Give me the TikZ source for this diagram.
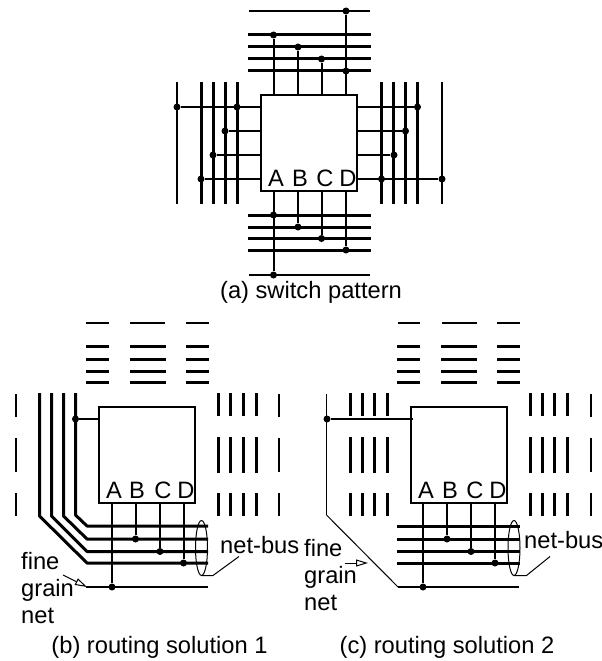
\documentclass[tikz,border=0pt]{standalone}
\usepackage{fontspec}
\setmainfont{Liberation Sans}
\usetikzlibrary{arrows.meta, positioning, calc}

\begin{document}
\begin{tikzpicture}[
  x=1pt, y=-1pt,
  cell/.style    = {draw, rectangle, line width=1.7pt, minimum size=96pt,
                    inner sep=0pt, outer sep=0pt},
  pin/.style     = {font=\fontsize{23.7}{26}\selectfont, inner sep=0pt, anchor=base},
  caption/.style = {font=\fontsize{23.7}{26}\selectfont, inner sep=0pt, anchor=base},
  lbl/.style     = {font=\fontsize{23.7}{27}\selectfont, inner sep=0pt, align=left},
  dot/.style     = {circle, fill=black, inner sep=0pt, minimum size=7pt},
  wire/.style    = {line width=2pt},
  bus/.style     = {line width=3pt},
  fine/.style    = {line width=1.9pt},
  hair/.style    = {line width=1pt},
  arr/.style     = {-{Triangle[open, length=12pt, width=7pt]}, line width=1pt},
]
\useasboundingbox (0,0) rectangle (602,661);

% (a) switch pattern
\node[cell] (boxa) at (309,143) {};
\node[pin] (pa) at (276,186) {A};
\node[pin] (pb) at (300,186) {B};
\node[pin] (pc) at (325,186) {C};
\node[pin] (pd) at (348,186) {D};

\foreach \y in {35,46.5,58.5,71,215,227,238.5,250}
  \draw[bus] (248,\y) -- (371,\y);
\foreach \y in {11,275}
  \draw[fine] (249,\y) -- (370,\y);
\foreach \x in {201.5,213,225,237,381.5,393.5,405.5,417.5}
  \draw[bus] (\x,82) -- (\x,204);
\foreach \x in {177,442}
  \draw[fine] (\x,82) -- (\x,204);

% top side
\node[dot] (t1) at (273.5,35) {};
\node[dot] (t2) at (298,47) {};
\node[dot] (t3) at (321.5,59) {};
\node[dot] (t4) at (346,71) {};
\node[dot] (t5) at (346,11) {};
\draw[wire] (boxa.north -| t1) -- (t1);
\draw[wire] (boxa.north -| t2) -- (t2);
\draw[wire] (boxa.north -| t3) -- (t3);
\draw[wire] (boxa.north -| t5) -- (t5);

% bottom side
\node[dot] (b1) at (273.5,215) {};
\node[dot] (b2) at (298,227) {};
\node[dot] (b3) at (321.5,238.5) {};
\node[dot] (b4) at (346,250) {};
\node[dot] (b5) at (273.5,275) {};
\draw[wire] (boxa.south -| b5) -- (b5);
\draw[wire] (boxa.south -| b2) -- (b2);
\draw[wire] (boxa.south -| b3) -- (b3);
\draw[wire] (boxa.south -| b4) -- (b4);

% left side
\node[dot] (l1) at (177,107) {};
\node[dot] (l2) at (237,107) {};
\node[dot] (l3) at (225,131) {};
\node[dot] (l4) at (213,155) {};
\node[dot] (l5) at (201,179) {};
\draw[wire] (boxa.west |- l1) -- (l1);
\draw[wire] (boxa.west |- l3) -- (l3);
\draw[wire] (boxa.west |- l4) -- (l4);
\draw[wire] (boxa.west |- l5) -- (l5);

% right side
\node[dot] (r1) at (417.5,107) {};
\node[dot] (r2) at (405.5,131) {};
\node[dot] (r3) at (394,155) {};
\node[dot] (r4) at (381.5,179) {};
\node[dot] (r5) at (442,179) {};
\draw[wire] (boxa.east |- r1) -- (r1);
\draw[wire] (boxa.east |- r2) -- (r2);
\draw[wire] (boxa.east |- r3) -- (r3);
\draw[wire] (boxa.east |- r5) -- (r5);

\node[caption] (capa) at (311,298) {(a) switch pattern};

% (b) routing solution 1
\node[cell] (boxb) at (147,455) {};
\node[pin] at (114,498) (pab) {A};
\node[pin] at (137,498) (pbb) {B};
\node[pin] at (163,498) (pcb) {C};
\node[pin] at (186,498) (pdb) {D};

\foreach \y in {346,359.5,371.5,382} {
  \draw[bus] (86,\y) -- (109,\y);
  \draw[bus] (130,\y) -- (165.5,\y);
  \draw[bus] (186,\y) -- (209,\y);
}
\draw[fine] (86,323) -- (109,323);
\draw[fine] (130,323) -- (165,323);
\draw[fine] (186,323) -- (209,323);
\foreach \x in {218,230,243,256} {
  \draw[bus] (\x,393) -- (\x,416);
  \draw[bus] (\x,437) -- (\x,473);
  \draw[bus] (\x,493) -- (\x,516);
}
\foreach \x in {16,279} {
  \draw[fine] (\x,394) -- (\x,417);
  \draw[fine] (\x,438) -- (\x,472);
  \draw[fine] (\x,493) -- (\x,516);
}
% bus bends into the net-bus
\draw[bus, line join=round] (75.5,393) -- (75.5,515) -- (87,526) -- (208,526);
\draw[bus, line join=round] (63.5,393) -- (63.5,516) -- (87,539) -- (208,539);
\draw[bus, line join=round] (51.5,393) -- (51.5,516) -- (87,551.5) -- (208,551.5);
\draw[bus, line join=round] (39.5,393) -- (39.5,516) -- (87,563) -- (208,563);
\draw[fine] (86,587) -- (208,587);

\node[dot] (bw) at (75.5,419) {};
\node[dot] (b1b) at (112,587) {};
\node[dot] (b2b) at (135.5,539) {};
\node[dot] (b3b) at (160,551.5) {};
\node[dot] (b4b) at (183.5,563) {};
\draw[wire] (boxb.west |- bw) -- (bw);
\draw[wire] (boxb.south -| b1b) -- (b1b);
\draw[wire] (boxb.south -| b2b) -- (b2b);
\draw[wire] (boxb.south -| b3b) -- (b3b);
\draw[wire] (boxb.south -| b4b) -- (b4b);

\draw[hair] (201.5,548) ellipse (6 and 27.5);
\coordinate (eb) at (201.5,575.5);
\node[lbl, anchor=base west] (nbb) at (220,553) {net-bus};
\draw[hair] (eb) -- (213,575.5) -- (239,556.5);
\node[lbl, anchor=north west] (fgb) at (21,552) {fine\\grain\\net};
\coordinate (ab) at (63,575);
\coordinate (tb) at (87,587);
\draw[arr] (ab) -- (tb);
\node[caption] (capb) at (159.5,653) {(b) routing solution 1};

% (c) routing solution 2
\node[cell] (boxc) at (459,455) {};
\node[pin] at (426,498) (pac) {A};
\node[pin] at (450,498) (pbc) {B};
\node[pin] at (475,498) (pcc) {C};
\node[pin] at (498,498) (pdc) {D};

\foreach \y in {346,359.5,371.5,382} {
  \draw[bus] (397,\y) -- (420,\y);
  \draw[bus] (441,\y) -- (477,\y);
  \draw[bus] (497,\y) -- (520,\y);
}
\draw[fine] (398,323) -- (420,323);
\draw[fine] (442,323) -- (477,323);
\draw[fine] (497,323) -- (520,323);
\foreach \x in {350,362,374,387,530,542,554,567.5} {
  \draw[bus] (\x,393) -- (\x,416);
  \draw[bus] (\x,437) -- (\x,473);
  \draw[bus] (\x,493) -- (\x,516);
}
\draw[fine] (591,394) -- (591,417);
\draw[fine] (591,438) -- (591,472);
\draw[fine] (591,493) -- (591,516);
\foreach \y in {526,539,551.5,563}
  \draw[bus] (397,\y) -- (520,\y);

% fine grain net takes the long way round
\draw[fine] (326.5,394) -- (326.5,515);
\draw[hair] (326.5,515) -- (398,587);
\draw[fine] (398,587) -- (519,587);

\node[dot] (cw) at (327,419) {};
\node[dot] (c1) at (423,587) {};
\node[dot] (c2) at (447,539) {};
\node[dot] (c3) at (471,551.5) {};
\node[dot] (c4) at (495,563) {};
\draw[wire] ([xshift=2pt]boxc.west |- cw) -- (cw);
\draw[wire] (boxc.south -| c1) -- (c1);
\draw[wire] (boxc.south -| c2) -- (c2);
\draw[wire] (boxc.south -| c3) -- (c3);
\draw[wire] (boxc.south -| c4) -- (c4);

\draw[hair] (514,548) ellipse (6 and 27.5);
\coordinate (ec) at (514,575.5);
\node[lbl, anchor=base west] (nbc) at (524,548) {net-bus};
\draw[hair] (ec) -- (526.5,575.5) -- (550,556.5);
\node[lbl, anchor=north west] (fgc) at (304,539) {fine\\grain\\net};
\coordinate (ac) at (345,563);
\coordinate (tc) at (368,563);
\draw[arr] (ac) -- (tc);
\node[caption] (capc) at (447,653) {(c) routing solution 2};

\end{tikzpicture}
\end{document}
